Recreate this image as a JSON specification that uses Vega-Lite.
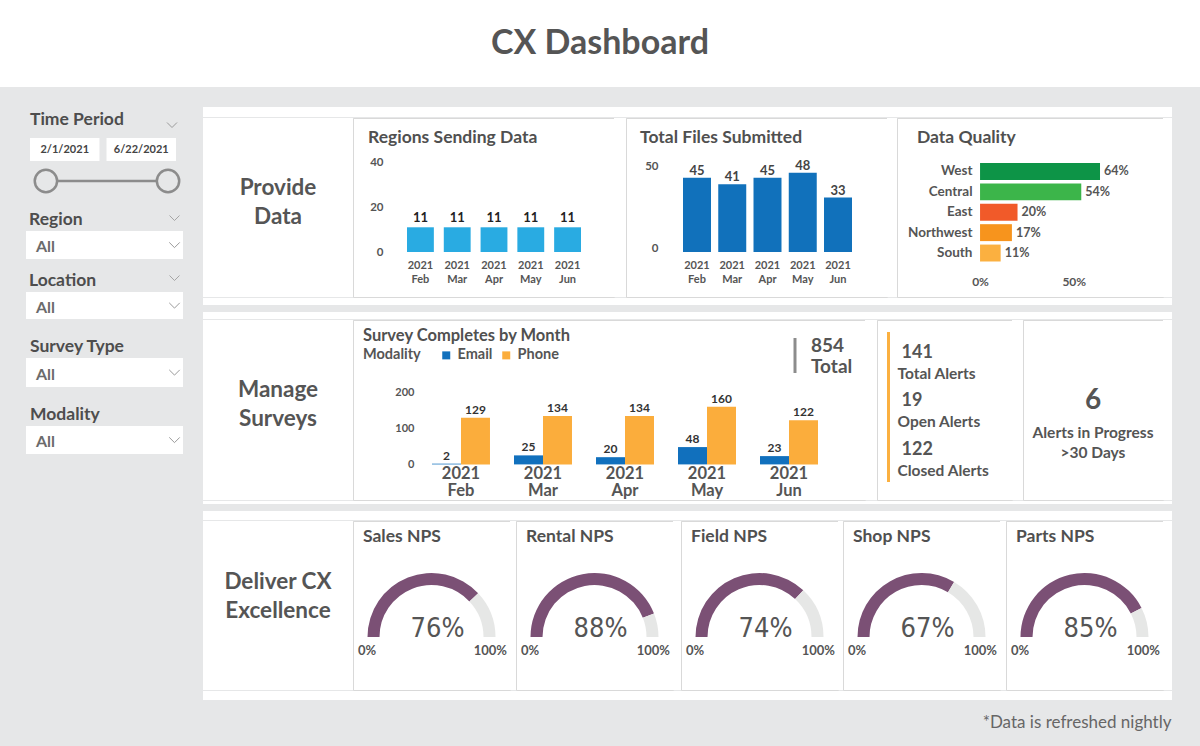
{
  "$schema": "https://vega.github.io/schema/vega-lite/v6.json",
  "padding": 0,
  "background": "#e6e7e8",
  "config": {
    "view": {"stroke": null},
    "concat": {"spacing": 0},
    "font": "Lato",
    "axis": {"domain": false, "ticks": false, "grid": false, "labelFont": "Lato", "labelFontWeight": "bold", "labelColor": "#555555"},
    "title": {"font": "Lato", "fontWeight": "bold", "color": "#505050", "anchor": "start", "frame": "group", "baseline": "alphabetic"},
    "text": {"font": "Lato", "color": "#555555"},
    "legend": {"labelFont": "Lato", "titleFont": "Lato"}
  },
  "datasets": {
    "regions": [
      {"month": "2021 Feb", "regions": 11},
      {"month": "2021 Mar", "regions": 11},
      {"month": "2021 Apr", "regions": 11},
      {"month": "2021 May", "regions": 11},
      {"month": "2021 Jun", "regions": 11}
    ],
    "files": [
      {"month": "2021 Feb", "files": 45},
      {"month": "2021 Mar", "files": 41},
      {"month": "2021 Apr", "files": 45},
      {"month": "2021 May", "files": 48},
      {"month": "2021 Jun", "files": 33}
    ],
    "quality": [
      {"region": "West", "quality": 0.64},
      {"region": "Central", "quality": 0.54},
      {"region": "East", "quality": 0.20},
      {"region": "Northwest", "quality": 0.17},
      {"region": "South", "quality": 0.11}
    ],
    "surveys": [
      {"month": "2021 Feb", "modality": "Email", "count": 2},
      {"month": "2021 Feb", "modality": "Phone", "count": 129},
      {"month": "2021 Mar", "modality": "Email", "count": 25},
      {"month": "2021 Mar", "modality": "Phone", "count": 134},
      {"month": "2021 Apr", "modality": "Email", "count": 20},
      {"month": "2021 Apr", "modality": "Phone", "count": 134},
      {"month": "2021 May", "modality": "Email", "count": 48},
      {"month": "2021 May", "modality": "Phone", "count": 160},
      {"month": "2021 Jun", "modality": "Email", "count": 23},
      {"month": "2021 Jun", "modality": "Phone", "count": 122}
    ],
    "alerts": [
      {"metric": "Total Alerts", "count": 141},
      {"metric": "Open Alerts", "count": 19},
      {"metric": "Closed Alerts", "count": 122}
    ],
    "nps": [
      {"gauge": "Sales NPS", "part": "NPS", "share": 0.76},
      {"gauge": "Sales NPS", "part": "Remaining", "share": 0.24},
      {"gauge": "Rental NPS", "part": "NPS", "share": 0.88},
      {"gauge": "Rental NPS", "part": "Remaining", "share": 0.12},
      {"gauge": "Field NPS", "part": "NPS", "share": 0.74},
      {"gauge": "Field NPS", "part": "Remaining", "share": 0.26},
      {"gauge": "Shop NPS", "part": "NPS", "share": 0.67},
      {"gauge": "Shop NPS", "part": "Remaining", "share": 0.33},
      {"gauge": "Parts NPS", "part": "NPS", "share": 0.85},
      {"gauge": "Parts NPS", "part": "Remaining", "share": 0.15}
    ]
  },
  "spacing": 0,
  "resolve": {"scale": {"color": "independent"}, "legend": {"color": "independent"}},
  "vconcat": [
    {
      "width": 1200, "height": 87,
      "view": {"fill": "#ffffff"},
      "data": {"values": [{}]},
      "mark": {"type": "text", "text": "CX Dashboard", "fontSize": 34, "fontWeight": "bold", "color": "#555555", "baseline": "middle"}
    },
    {
      "spacing": 0,
      "resolve": {"scale": {"color": "independent"}, "legend": {"color": "independent"}},
      "hconcat": [
        {"width": 26, "height": 1, "data": {"values": []}, "mark": "point"},
        {
          "spacing": 0,
          "bounds": "flush",
          "vconcat": [
            {"width": 157, "height": 23, "data": {"values": []}, "mark": "point"},
            {
              "width": 157, "height": 22, "data": {"values": [{}]},
              "layer": [
                {"mark": {"type": "text", "text": "Time Period", "align": "left", "baseline": "alphabetic", "dx": -74.5, "dy": 4, "fontSize": 17.5, "fontWeight": "bold", "color": "#4d4d4d"}},
                {"mark": {"type": "point", "shape": "M-1,-0.5L0,0.5L1,-0.5", "filled": false, "opacity": 1, "stroke": "#9a9a9a", "strokeWidth": 1, "size": 100, "xOffset": 67.5, "yOffset": 4}}
              ]
            },
            {"width": 157, "height": 6, "data": {"values": []}, "mark": "point"},
            {
              "width": 157, "height": 23,
              "data": {"values": [{"d": "2/1/2021"}, {"d": "6/22/2021"}]},
              "encoding": {
                "x": {"field": "d", "type": "ordinal", "sort": null, "scale": {"range": [4, 150], "paddingInner": 0.092, "paddingOuter": 0}, "axis": null}
              },
              "layer": [
                {"mark": {"type": "bar", "color": "#ffffff"}},
                {"mark": {"type": "text", "fontSize": 11, "fontWeight": "bold", "color": "#444444"}, "encoding": {"text": {"field": "d"}}}
              ]
            },
            {"width": 157, "height": 7, "data": {"values": []}, "mark": "point"},
            {
              "width": 157, "height": 26,
              "data": {"values": [{"d": "2/1/2021"}, {"d": "6/22/2021"}]},
              "encoding": {
                "x": {"field": "d", "type": "ordinal", "sort": null, "scale": {"type": "point", "padding": 0.143, "align": 0.571}, "axis": null}
              },
              "layer": [
                {"mark": {"type": "line", "stroke": "#8c8c8c", "strokeWidth": 2.5}},
                {"mark": {"type": "point", "shape": "circle", "filled": true, "opacity": 1, "fill": "#e6e7e8", "stroke": "#8c8c8c", "strokeWidth": 2.5, "size": 500}}
              ]
            },
            {"width": 157, "height": 15, "data": {"values": []}, "mark": "point"},
            {
              "width": 157, "height": 22, "data": {"values": [{}]},
              "layer": [
                {"mark": {"type": "text", "text": "Region", "align": "left", "baseline": "alphabetic", "dx": -75.5, "dy": 5, "fontSize": 17.5, "fontWeight": "bold", "color": "#4d4d4d"}},
                {"mark": {"type": "point", "shape": "M-1,-0.5L0,0.5L1,-0.5", "filled": false, "opacity": 1, "stroke": "#a5a5a5", "strokeWidth": 1, "size": 100, "xOffset": 70, "yOffset": -2}}
              ]
            },
            {
              "width": 157, "height": 28, "view": {"fill": "#ffffff"}, "data": {"values": [{"v": "All"}]},
              "layer": [
                {"mark": {"type": "text", "align": "left", "baseline": "alphabetic", "dx": -68.5, "dy": 7, "fontSize": 16, "fontWeight": "bold", "color": "#6b6b6b"}, "encoding": {"text": {"field": "v"}}},
                {"mark": {"type": "point", "shape": "M-1,-0.5L0,0.5L1,-0.5", "filled": false, "opacity": 1, "stroke": "#9a9a9a", "strokeWidth": 1, "size": 110, "xOffset": 70}}
              ]
            },
            {"width": 157, "height": 11, "data": {"values": []}, "mark": "point"},
            {
              "width": 157, "height": 22, "data": {"values": [{}]},
              "layer": [
                {"mark": {"type": "text", "text": "Location", "align": "left", "baseline": "alphabetic", "dx": -75.5, "dy": 5, "fontSize": 17.5, "fontWeight": "bold", "color": "#4d4d4d"}},
                {"mark": {"type": "point", "shape": "M-1,-0.5L0,0.5L1,-0.5", "filled": false, "opacity": 1, "stroke": "#a5a5a5", "strokeWidth": 1, "size": 100, "xOffset": 70, "yOffset": -3}}
              ]
            },
            {
              "width": 157, "height": 27, "view": {"fill": "#ffffff"}, "data": {"values": [{"v": "All"}]},
              "layer": [
                {"mark": {"type": "text", "align": "left", "baseline": "alphabetic", "dx": -68.5, "dy": 7, "fontSize": 16, "fontWeight": "bold", "color": "#6b6b6b"}, "encoding": {"text": {"field": "v"}}},
                {"mark": {"type": "point", "shape": "M-1,-0.5L0,0.5L1,-0.5", "filled": false, "opacity": 1, "stroke": "#9a9a9a", "strokeWidth": 1, "size": 110, "xOffset": 70}}
              ]
            },
            {"width": 157, "height": 17, "data": {"values": []}, "mark": "point"},
            {
              "width": 157, "height": 22, "data": {"values": [{}]},
              "mark": {"type": "text", "text": "Survey Type", "align": "left", "baseline": "alphabetic", "dx": -74.5, "dy": 5, "fontSize": 17.5, "fontWeight": "bold", "color": "#4d4d4d"}
            },
            {
              "width": 157, "height": 29, "view": {"fill": "#ffffff"}, "data": {"values": [{"v": "All"}]},
              "layer": [
                {"mark": {"type": "text", "align": "left", "baseline": "alphabetic", "dx": -68.5, "dy": 7, "fontSize": 16, "fontWeight": "bold", "color": "#6b6b6b"}, "encoding": {"text": {"field": "v"}}},
                {"mark": {"type": "point", "shape": "M-1,-0.5L0,0.5L1,-0.5", "filled": false, "opacity": 1, "stroke": "#9a9a9a", "strokeWidth": 1, "size": 110, "xOffset": 70}}
              ]
            },
            {"width": 157, "height": 17, "data": {"values": []}, "mark": "point"},
            {
              "width": 157, "height": 22, "data": {"values": [{}]},
              "mark": {"type": "text", "text": "Modality", "align": "left", "baseline": "alphabetic", "dx": -74.5, "dy": 5, "fontSize": 17.5, "fontWeight": "bold", "color": "#4d4d4d"}
            },
            {
              "width": 157, "height": 28, "view": {"fill": "#ffffff"}, "data": {"values": [{"v": "All"}]},
              "layer": [
                {"mark": {"type": "text", "align": "left", "baseline": "alphabetic", "dx": -68.5, "dy": 7, "fontSize": 16, "fontWeight": "bold", "color": "#6b6b6b"}, "encoding": {"text": {"field": "v"}}},
                {"mark": {"type": "point", "shape": "M-1,-0.5L0,0.5L1,-0.5", "filled": false, "opacity": 1, "stroke": "#9a9a9a", "strokeWidth": 1, "size": 110, "xOffset": 70}}
              ]
            }
          ]
        },
        {"width": 18, "height": 1, "data": {"values": []}, "mark": "point"},
        {
          "spacing": 7,
          "resolve": {"scale": {"color": "independent"}, "legend": {"color": "independent"}},
          "vconcat": [
            {"width": 969, "height": 13, "data": {"values": []}, "mark": "point"},
            {
              "spacing": 0,
              "vconcat": [
                {"width": 969, "height": 10, "view": {"fill": "#ffffff"}, "data": {"values": []}, "mark": "point"},
                {
                  "spacing": 0,
                  "bounds": "flush",
                  "hconcat": [
                    {"width": 150, "height": 179, "view": {"fill": "#ffffff"}, "data": {"values": [{}]},
                     "mark": {"type": "text", "text": ["Provide", "Data"], "fontSize": 22.5, "fontWeight": "bold", "color": "#555555", "lineHeight": 29, "baseline": "middle", "dy": -19.5}},
                    {
                      "width": 261, "height": 179,
                      "view": {"fill": "#ffffff", "stroke": "#d9d9d9"},
                      "title": {"text": "Regions Sending Data", "dx": 15, "offset": -28, "fontSize": 17.5},
                      "data": {"name": "regions"},
                      "encoding": {
                        "x": {"field": "month", "type": "ordinal", "sort": null, "title": null,
                              "scale": {"range": [54, 228], "paddingInner": 0.27, "paddingOuter": 0},
                              "axis": {"labelExpr": "split(datum.label, ' ')", "labelAngle": 0, "offset": -45, "labelPadding": 7, "labelFontSize": 11, "labelLineHeight": 14}},
                        "y": {"field": "regions", "type": "quantitative", "title": null,
                              "scale": {"domain": [-20, 59.6], "nice": false, "zero": false},
                              "axis": {"values": [0, 20, 40], "offset": -30, "labelPadding": 0, "labelFontSize": 11.5}}
                      },
                      "layer": [
                        {"mark": {"type": "bar", "color": "#29abe2"}},
                        {"mark": {"type": "text", "baseline": "alphabetic", "dy": -5, "fontSize": 13, "fontWeight": "bold", "color": "#222222"}, "encoding": {"text": {"field": "regions", "type": "quantitative"}}}
                      ]
                    },
                    {"width": 12, "height": 179, "view": {"fill": "#ffffff"}, "data": {"values": []}, "mark": "point"},
                    {
                      "width": 261, "height": 179,
                      "view": {"fill": "#ffffff", "stroke": "#d9d9d9"},
                      "title": {"text": "Total Files Submitted", "dx": 14, "offset": -28, "fontSize": 17.5},
                      "data": {"name": "files"},
                      "encoding": {
                        "x": {"field": "month", "type": "ordinal", "sort": null, "title": null,
                              "scale": {"range": [57, 226], "paddingInner": 0.206, "paddingOuter": 0},
                              "axis": {"labelExpr": "split(datum.label, ' ')", "labelAngle": 0, "offset": -45, "labelPadding": 7, "labelFontSize": 11, "labelLineHeight": 14}},
                        "y": {"field": "files", "type": "quantitative", "title": null,
                              "scale": {"domain": [-27.3, 81.2], "nice": false, "zero": false},
                              "axis": {"values": [0, 50], "offset": -32, "labelPadding": 0, "labelOffset": -3, "labelFontSize": 11.5}}
                      },
                      "layer": [
                        {"mark": {"type": "bar", "color": "#1171bb"}},
                        {"mark": {"type": "text", "baseline": "alphabetic", "dy": -3, "fontSize": 13, "fontWeight": "bold", "color": "#444444"}, "encoding": {"text": {"field": "files", "type": "quantitative"}}}
                      ]
                    },
                    {"width": 10, "height": 179, "view": {"fill": "#ffffff"}, "data": {"values": []}, "mark": "point"},
                    {
                      "width": 266, "height": 179,
                      "view": {"fill": "#ffffff", "stroke": "#d9d9d9"},
                      "title": {"text": "Data Quality", "dx": 20, "offset": -28, "fontSize": 17.5},
                      "data": {"name": "quality"},
                      "encoding": {
                        "y": {"field": "region", "type": "nominal", "sort": null, "title": null,
                              "scale": {"range": [45, 143.5], "paddingInner": 0.17, "paddingOuter": 0},
                              "axis": {"offset": -83, "labelPadding": 8, "labelFontSize": 13.5}},
                        "x": {"field": "quality", "type": "quantitative", "title": null,
                              "scale": {"domain": [-0.443, 0.976], "nice": false, "zero": false},
                              "axis": {"values": [0, 0.5], "format": ".0%", "offset": -23, "labelPadding": 2, "labelFontSize": 12}}
                      },
                      "layer": [
                        {"mark": {"type": "bar"}, "encoding": {
                          "color": {"field": "region", "type": "nominal", "legend": null,
                                    "scale": {"domain": ["West", "Central", "East", "Northwest", "South"], "range": ["#0d9447", "#3cb54a", "#f15a29", "#f7941d", "#fbb040"]}}
                        }},
                        {"mark": {"type": "text", "align": "left", "dx": 4, "fontSize": 12.5, "fontWeight": "bold", "color": "#555555"}, "encoding": {"text": {"field": "quality", "type": "quantitative", "format": ".0%"}}}
                      ]
                    },
                    {"width": 9, "height": 179, "view": {"fill": "#ffffff"}, "data": {"values": []}, "mark": "point"}
                  ]
                },
                {"width": 969, "height": 7, "view": {"fill": "#ffffff"}, "data": {"values": []}, "mark": "point"}
              ]
            },
            {
              "spacing": 0,
              "vconcat": [
                {"width": 969, "height": 7, "view": {"fill": "#ffffff"}, "data": {"values": []}, "mark": "point"},
                {
                  "spacing": 0,
                  "bounds": "flush",
                  "hconcat": [
                    {"width": 150, "height": 180, "view": {"fill": "#ffffff"}, "data": {"values": [{}]},
                     "mark": {"type": "text", "text": ["Manage", "Surveys"], "fontSize": 22.5, "fontWeight": "bold", "color": "#555555", "lineHeight": 29, "baseline": "middle", "dy": -20}},
                    {
                      "width": 512, "height": 180,
                      "view": {"fill": "#ffffff", "stroke": "#d9d9d9"},
                      "title": {"text": "Survey Completes by Month", "dx": 10, "offset": -24, "fontSize": 16.5},
                      "data": {"name": "surveys"},
                      "layer": [
                        {"mark": {"type": "bar"}, "encoding": {
                          "x": {"field": "month", "type": "ordinal", "sort": null, "title": null,
                                "scale": {"range": [79, 465], "paddingInner": 0.293, "paddingOuter": 0},
                                "axis": {"labelExpr": "split(datum.label, ' ')", "labelAngle": 0, "offset": -38, "labelPadding": 3, "labelFontSize": 16.5, "labelLineHeight": 17.5}},
                          "y": {"field": "count", "type": "quantitative", "title": null,
                                "scale": {"domain": [-98.6, 400], "nice": false, "zero": false},
                                "axis": {"values": [0, 100, 200], "offset": -61, "labelPadding": 0, "labelFontSize": 11}},
                          "xOffset": {"field": "modality", "type": "nominal", "scale": {"paddingInner": 0, "paddingOuter": 0}},
                          "color": {"field": "modality", "type": "nominal",
                                    "scale": {"domain": ["Email", "Phone"], "range": ["#1170bd", "#fbad3c"]},
                                    "legend": {"orient": "none", "legendX": 160, "legendY": 36, "direction": "horizontal", "title": "Modality", "titleOrient": "left",
                                               "titleFontSize": 14.5, "titleFontWeight": "bold", "titleColor": "#555555", "titlePadding": 18,
                                               "labelFontSize": 14.5, "labelFontWeight": "bold", "labelColor": "#555555", "labelOffset": 4,
                                               "symbolType": "square", "symbolSize": 64, "symbolStrokeWidth": 0, "columnPadding": 6, "padding": 0}}
                        }},
                        {"mark": {"type": "text", "baseline": "alphabetic", "dy": -4, "fontSize": 12, "fontWeight": "bold", "color": "#333333"}, "encoding": {
                          "x": {"field": "month", "type": "ordinal", "sort": null, "title": null,
                                "scale": {"range": [79, 465], "paddingInner": 0.293, "paddingOuter": 0},
                                "axis": {"labelExpr": "split(datum.label, ' ')", "labelAngle": 0, "offset": -38, "labelPadding": 3, "labelFontSize": 16.5, "labelLineHeight": 17.5}},
                          "y": {"field": "count", "type": "quantitative", "title": null,
                                "scale": {"domain": [-98.6, 400], "nice": false, "zero": false},
                                "axis": {"values": [0, 100, 200], "offset": -61, "labelPadding": 0, "labelFontSize": 11}},
                          "xOffset": {"field": "modality", "type": "nominal", "scale": {"paddingInner": 0, "paddingOuter": 0}},
                          "text": {"field": "count", "type": "quantitative"}
                        }},
                        {"data": {"values": [{"total": 854}]},
                         "mark": {"type": "text", "align": "left", "baseline": "alphabetic", "dx": 202, "dy": -58, "fontSize": 19, "fontWeight": "bold", "color": "#555555"},
                         "encoding": {"text": {"field": "total", "type": "quantitative"}}},
                        {"data": {"values": [{}]},
                         "mark": {"type": "text", "text": "Total", "align": "left", "baseline": "alphabetic", "dx": 202, "dy": -37, "fontSize": 19, "fontWeight": "bold", "color": "#555555"}},
                        {"data": {"values": [{}]},
                         "mark": {"type": "point", "shape": "M0,-1L0,1", "filled": false, "opacity": 1, "stroke": "#8c8c8c", "strokeWidth": 3, "size": 1225, "xOffset": 186, "yOffset": -54.5}}
                      ]
                    },
                    {"width": 12, "height": 180, "view": {"fill": "#ffffff"}, "data": {"values": []}, "mark": "point"},
                    {
                      "width": 135, "height": 180,
                      "view": {"fill": "#ffffff", "stroke": "#d9d9d9"},
                      "data": {"name": "alerts"},
                      "layer": [
                        {"data": {"values": [{}]},
                         "mark": {"type": "point", "shape": "M0,-1L0,1", "filled": false, "opacity": 1, "stroke": "#fbb040", "strokeWidth": 3, "size": 22500, "xOffset": -56, "yOffset": -3}},
                        {"mark": {"type": "text", "align": "left", "baseline": "alphabetic", "dx": -43, "dy": -11, "fontSize": 18, "fontWeight": "bold", "color": "#555555"},
                         "encoding": {
                           "y": {"field": "metric", "type": "nominal", "sort": null, "scale": {"type": "point", "padding": 0.856, "align": 0.59}, "axis": null},
                           "text": {"field": "count", "type": "quantitative"}}},
                        {"mark": {"type": "text", "align": "left", "baseline": "alphabetic", "dx": -47, "dy": 10, "fontSize": 15.5, "fontWeight": "bold", "color": "#555555"},
                         "encoding": {
                           "y": {"field": "metric", "type": "nominal", "sort": null, "scale": {"type": "point", "padding": 0.856, "align": 0.59}, "axis": null},
                           "text": {"field": "metric", "type": "nominal"}}}
                      ]
                    },
                    {"width": 11, "height": 180, "view": {"fill": "#ffffff"}, "data": {"values": []}, "mark": "point"},
                    {
                      "width": 140, "height": 180,
                      "view": {"fill": "#ffffff", "stroke": "#d9d9d9"},
                      "data": {"values": [{"inProgress": 6}]},
                      "layer": [
                        {"mark": {"type": "text", "baseline": "alphabetic", "dy": -1, "fontSize": 28, "fontWeight": "bold", "color": "#555555"},
                         "encoding": {"text": {"field": "inProgress", "type": "quantitative"}}},
                        {"mark": {"type": "text", "text": ["Alerts in Progress", ">30 Days"], "baseline": "alphabetic", "dy": 28, "lineHeight": 20, "fontSize": 15.5, "fontWeight": "bold", "color": "#555555"}}
                      ]
                    },
                    {"width": 9, "height": 180, "view": {"fill": "#ffffff"}, "data": {"values": []}, "mark": "point"}
                  ]
                },
                {"width": 969, "height": 3, "view": {"fill": "#ffffff"}, "data": {"values": []}, "mark": "point"}
              ]
            },
            {
              "spacing": 0,
              "vconcat": [
                {"width": 969, "height": 9, "view": {"fill": "#ffffff"}, "data": {"values": []}, "mark": "point"},
                {
                  "spacing": 0,
                  "bounds": "flush",
                  "hconcat": [
                    {"width": 150, "height": 169, "view": {"fill": "#ffffff"}, "data": {"values": [{}]},
                     "mark": {"type": "text", "text": ["Deliver CX", "Excellence"], "fontSize": 22.5, "fontWeight": "bold", "color": "#555555", "lineHeight": 29, "baseline": "middle", "dy": -23.5}},
                    {
                      "width": 157, "height": 169, "view": {"fill": "#ffffff", "stroke": "#d9d9d9"},
                      "data": {"name": "nps"}, "transform": [{"filter": {"field": "gauge", "equal": "Sales NPS"}}],
                      "layer": [
                        {"mark": {"type": "arc", "radius": 64, "radius2": 52, "yOffset": 31.5},
                         "encoding": {
                           "theta": {"field": "share", "type": "quantitative", "stack": true, "scale": {"domain": [0, 1], "range": [-1.5708, 1.5708]}},
                           "order": {"field": "part", "sort": "ascending"},
                           "color": {"field": "part", "type": "nominal", "legend": null, "scale": {"domain": ["NPS", "Remaining"], "range": ["#7b5075", "#e6e7e6"]}}}},
                        {"transform": [{"filter": {"field": "part", "equal": "NPS"}}],
                         "mark": {"type": "text", "align": "left", "baseline": "alphabetic", "dx": -68.5, "dy": -63.5, "fontSize": 17.5, "fontWeight": "bold", "color": "#505050"},
                         "encoding": {"text": {"field": "gauge", "type": "nominal"}}},
                        {"transform": [{"filter": {"field": "part", "equal": "NPS"}}],
                         "mark": {"type": "text", "baseline": "alphabetic", "dx": 6, "dy": 31.5, "fontSize": 27, "font": "DejaVu Sans Condensed", "color": "#555555"},
                         "encoding": {"text": {"field": "share", "type": "quantitative", "format": ".0%"}}},
                        {"transform": [{"filter": {"field": "part", "equal": "NPS"}}],
                         "mark": {"type": "text", "text": "0%", "align": "left", "baseline": "alphabetic", "dx": -73.5, "dy": 49.5, "fontSize": 13, "fontWeight": "bold", "color": "#555555"}},
                        {"transform": [{"filter": {"field": "part", "equal": "NPS"}}],
                         "mark": {"type": "text", "text": "100%", "align": "right", "baseline": "alphabetic", "dx": 75.5, "dy": 49.5, "fontSize": 13, "fontWeight": "bold", "color": "#555555"}}
                      ]
                    },
                    {"width": 6, "height": 169, "view": {"fill": "#ffffff"}, "data": {"values": []}, "mark": "point"},
                    {
                      "width": 157, "height": 169, "view": {"fill": "#ffffff", "stroke": "#d9d9d9"},
                      "data": {"name": "nps"}, "transform": [{"filter": {"field": "gauge", "equal": "Rental NPS"}}],
                      "layer": [
                        {"mark": {"type": "arc", "radius": 64, "radius2": 52, "yOffset": 31.5},
                         "encoding": {
                           "theta": {"field": "share", "type": "quantitative", "stack": true, "scale": {"domain": [0, 1], "range": [-1.5708, 1.5708]}},
                           "order": {"field": "part", "sort": "ascending"},
                           "color": {"field": "part", "type": "nominal", "legend": null, "scale": {"domain": ["NPS", "Remaining"], "range": ["#7b5075", "#e6e7e6"]}}}},
                        {"transform": [{"filter": {"field": "part", "equal": "NPS"}}],
                         "mark": {"type": "text", "align": "left", "baseline": "alphabetic", "dx": -68.5, "dy": -63.5, "fontSize": 17.5, "fontWeight": "bold", "color": "#505050"},
                         "encoding": {"text": {"field": "gauge", "type": "nominal"}}},
                        {"transform": [{"filter": {"field": "part", "equal": "NPS"}}],
                         "mark": {"type": "text", "baseline": "alphabetic", "dx": 6, "dy": 31.5, "fontSize": 27, "font": "DejaVu Sans Condensed", "color": "#555555"},
                         "encoding": {"text": {"field": "share", "type": "quantitative", "format": ".0%"}}},
                        {"transform": [{"filter": {"field": "part", "equal": "NPS"}}],
                         "mark": {"type": "text", "text": "0%", "align": "left", "baseline": "alphabetic", "dx": -73.5, "dy": 49.5, "fontSize": 13, "fontWeight": "bold", "color": "#555555"}},
                        {"transform": [{"filter": {"field": "part", "equal": "NPS"}}],
                         "mark": {"type": "text", "text": "100%", "align": "right", "baseline": "alphabetic", "dx": 75.5, "dy": 49.5, "fontSize": 13, "fontWeight": "bold", "color": "#555555"}}
                      ]
                    },
                    {"width": 8, "height": 169, "view": {"fill": "#ffffff"}, "data": {"values": []}, "mark": "point"},
                    {
                      "width": 157, "height": 169, "view": {"fill": "#ffffff", "stroke": "#d9d9d9"},
                      "data": {"name": "nps"}, "transform": [{"filter": {"field": "gauge", "equal": "Field NPS"}}],
                      "layer": [
                        {"mark": {"type": "arc", "radius": 64, "radius2": 52, "yOffset": 31.5},
                         "encoding": {
                           "theta": {"field": "share", "type": "quantitative", "stack": true, "scale": {"domain": [0, 1], "range": [-1.5708, 1.5708]}},
                           "order": {"field": "part", "sort": "ascending"},
                           "color": {"field": "part", "type": "nominal", "legend": null, "scale": {"domain": ["NPS", "Remaining"], "range": ["#7b5075", "#e6e7e6"]}}}},
                        {"transform": [{"filter": {"field": "part", "equal": "NPS"}}],
                         "mark": {"type": "text", "align": "left", "baseline": "alphabetic", "dx": -68.5, "dy": -63.5, "fontSize": 17.5, "fontWeight": "bold", "color": "#505050"},
                         "encoding": {"text": {"field": "gauge", "type": "nominal"}}},
                        {"transform": [{"filter": {"field": "part", "equal": "NPS"}}],
                         "mark": {"type": "text", "baseline": "alphabetic", "dx": 6, "dy": 31.5, "fontSize": 27, "font": "DejaVu Sans Condensed", "color": "#555555"},
                         "encoding": {"text": {"field": "share", "type": "quantitative", "format": ".0%"}}},
                        {"transform": [{"filter": {"field": "part", "equal": "NPS"}}],
                         "mark": {"type": "text", "text": "0%", "align": "left", "baseline": "alphabetic", "dx": -73.5, "dy": 49.5, "fontSize": 13, "fontWeight": "bold", "color": "#555555"}},
                        {"transform": [{"filter": {"field": "part", "equal": "NPS"}}],
                         "mark": {"type": "text", "text": "100%", "align": "right", "baseline": "alphabetic", "dx": 75.5, "dy": 49.5, "fontSize": 13, "fontWeight": "bold", "color": "#555555"}}
                      ]
                    },
                    {"width": 5, "height": 169, "view": {"fill": "#ffffff"}, "data": {"values": []}, "mark": "point"},
                    {
                      "width": 157, "height": 169, "view": {"fill": "#ffffff", "stroke": "#d9d9d9"},
                      "data": {"name": "nps"}, "transform": [{"filter": {"field": "gauge", "equal": "Shop NPS"}}],
                      "layer": [
                        {"mark": {"type": "arc", "radius": 64, "radius2": 52, "yOffset": 31.5},
                         "encoding": {
                           "theta": {"field": "share", "type": "quantitative", "stack": true, "scale": {"domain": [0, 1], "range": [-1.5708, 1.5708]}},
                           "order": {"field": "part", "sort": "ascending"},
                           "color": {"field": "part", "type": "nominal", "legend": null, "scale": {"domain": ["NPS", "Remaining"], "range": ["#7b5075", "#e6e7e6"]}}}},
                        {"transform": [{"filter": {"field": "part", "equal": "NPS"}}],
                         "mark": {"type": "text", "align": "left", "baseline": "alphabetic", "dx": -68.5, "dy": -63.5, "fontSize": 17.5, "fontWeight": "bold", "color": "#505050"},
                         "encoding": {"text": {"field": "gauge", "type": "nominal"}}},
                        {"transform": [{"filter": {"field": "part", "equal": "NPS"}}],
                         "mark": {"type": "text", "baseline": "alphabetic", "dx": 6, "dy": 31.5, "fontSize": 27, "font": "DejaVu Sans Condensed", "color": "#555555"},
                         "encoding": {"text": {"field": "share", "type": "quantitative", "format": ".0%"}}},
                        {"transform": [{"filter": {"field": "part", "equal": "NPS"}}],
                         "mark": {"type": "text", "text": "0%", "align": "left", "baseline": "alphabetic", "dx": -73.5, "dy": 49.5, "fontSize": 13, "fontWeight": "bold", "color": "#555555"}},
                        {"transform": [{"filter": {"field": "part", "equal": "NPS"}}],
                         "mark": {"type": "text", "text": "100%", "align": "right", "baseline": "alphabetic", "dx": 75.5, "dy": 49.5, "fontSize": 13, "fontWeight": "bold", "color": "#555555"}}
                      ]
                    },
                    {"width": 6, "height": 169, "view": {"fill": "#ffffff"}, "data": {"values": []}, "mark": "point"},
                    {
                      "width": 157, "height": 169, "view": {"fill": "#ffffff", "stroke": "#d9d9d9"},
                      "data": {"name": "nps"}, "transform": [{"filter": {"field": "gauge", "equal": "Parts NPS"}}],
                      "layer": [
                        {"mark": {"type": "arc", "radius": 64, "radius2": 52, "yOffset": 31.5},
                         "encoding": {
                           "theta": {"field": "share", "type": "quantitative", "stack": true, "scale": {"domain": [0, 1], "range": [-1.5708, 1.5708]}},
                           "order": {"field": "part", "sort": "ascending"},
                           "color": {"field": "part", "type": "nominal", "legend": null, "scale": {"domain": ["NPS", "Remaining"], "range": ["#7b5075", "#e6e7e6"]}}}},
                        {"transform": [{"filter": {"field": "part", "equal": "NPS"}}],
                         "mark": {"type": "text", "align": "left", "baseline": "alphabetic", "dx": -68.5, "dy": -63.5, "fontSize": 17.5, "fontWeight": "bold", "color": "#505050"},
                         "encoding": {"text": {"field": "gauge", "type": "nominal"}}},
                        {"transform": [{"filter": {"field": "part", "equal": "NPS"}}],
                         "mark": {"type": "text", "baseline": "alphabetic", "dx": 6, "dy": 31.5, "fontSize": 27, "font": "DejaVu Sans Condensed", "color": "#555555"},
                         "encoding": {"text": {"field": "share", "type": "quantitative", "format": ".0%"}}},
                        {"transform": [{"filter": {"field": "part", "equal": "NPS"}}],
                         "mark": {"type": "text", "text": "0%", "align": "left", "baseline": "alphabetic", "dx": -73.5, "dy": 49.5, "fontSize": 13, "fontWeight": "bold", "color": "#555555"}},
                        {"transform": [{"filter": {"field": "part", "equal": "NPS"}}],
                         "mark": {"type": "text", "text": "100%", "align": "right", "baseline": "alphabetic", "dx": 75.5, "dy": 49.5, "fontSize": 13, "fontWeight": "bold", "color": "#555555"}}
                      ]
                    },
                    {"width": 9, "height": 169, "view": {"fill": "#ffffff"}, "data": {"values": []}, "mark": "point"}
                  ]
                },
                {"width": 969, "height": 9, "view": {"fill": "#ffffff"}, "data": {"values": []}, "mark": "point"}
              ]
            },
            {
              "width": 969, "height": 39, "data": {"values": [{}]},
              "mark": {"type": "text", "text": "*Data is refreshed nightly", "align": "right", "dx": 484, "dy": -4, "fontSize": 17, "color": "#666666"}
            }
          ]
        }
      ]
    }
  ]
}
